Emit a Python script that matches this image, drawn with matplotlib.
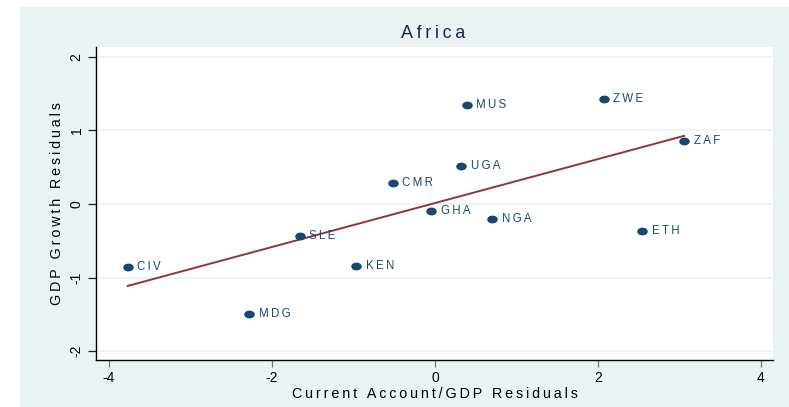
import numpy as np
import matplotlib
matplotlib.use("Agg")
import matplotlib.pyplot as plt
from matplotlib.path import Path
from matplotlib.transforms import Affine2D
from matplotlib.patches import Rectangle

# residuals
countries = ["CIV", "MDG", "SLE", "KEN", "CMR", "GHA", "UGA", "MUS", "NGA", "ZWE", "ETH", "ZAF"]
ca_resid = [-3.77, -2.28, -1.66, -0.97, -0.52, -0.05, 0.32, 0.39, 0.70, 2.07, 2.54, 3.06]
gdp_resid = [-0.86, -1.49, -0.44, -0.85, 0.28, -0.10, 0.51, 1.34, -0.21, 1.42, -0.37, 0.85]

x_ticks = [-4, -2, 0, 2, 4]
y_ticks = [-2, -1, 0, 1, 2]

navy = "#1a476f"
maroon = "#90353b"
bg = "#eaf2f3"

plt.rcParams['font.family'] = ['Liberation Sans', 'DejaVu Sans']

def spaced(s):
    # stata-ish letter spacing
    return "\u2009".join(s)

fig = plt.figure(figsize=(7.89, 4.07), dpi=100, facecolor="white")
fig.patches.append(Rectangle((20 / 789, 0), 1 - 20 / 789, 1 - 7 / 407,
                             transform=fig.transFigure, facecolor=bg,
                             edgecolor="none", zorder=-10))

ax = fig.add_axes([96 / 789, 1 - 360 / 407, (773 - 96) / 789, (360 - 47) / 407])
ax.set_facecolor("white")

x = np.array(ca_resid)
y = np.array(gdp_resid)
slope, icpt = np.polyfit(x, y, 1)
xs = np.array([x.min(), x.max()])
ax.plot(xs, icpt + slope * xs, color=maroon, lw=1.4, zorder=2)

ellipse = Path.unit_circle().transformed(Affine2D().scale(1.35, 1.0))
ax.scatter(x, y, marker=ellipse, s=58, color=navy, zorder=3, linewidths=0)
for c, xi, yi in zip(countries, x, y):
    ax.annotate(spaced(c), (xi, yi), xytext=(7, 0), textcoords="offset points",
                va="center", ha="left", fontsize=8.3, color=navy)

ax.set_xlim(-4.16, 4.15)
ax.set_ylim(-2.12, 2.13)
ax.set_xticks(x_ticks)
ax.set_yticks(y_ticks)
ax.set_xticklabels([str(t) for t in x_ticks], fontsize=10)
ax.set_yticklabels([str(t) for t in y_ticks], fontsize=10, rotation=90, va="center")
ax.grid(axis="y", color=bg, lw=1.2)
ax.set_axisbelow(True)
ax.tick_params(axis="y", direction="out", length=6, width=0.9, color="#222222", pad=3)
ax.tick_params(axis="x", direction="out", length=5, width=0.9, color="#777777", pad=3)
for side in ["top", "right"]:
    ax.spines[side].set_visible(False)
for side in ["left", "bottom"]:
    ax.spines[side].set_linewidth(1.0)

ax.set_xlabel(spaced("Current Account/GDP Residuals"), fontsize=10.3, labelpad=1)
ax.set_ylabel(spaced("GDP Growth Residuals"), fontsize=10.3, labelpad=4)
fig.text(433 / 789, 1 - 33 / 407, spaced("Africa"), ha="center", va="center",
         fontsize=13, color="#1a2a44")

fig.savefig("out.png", dpi=100, facecolor=fig.get_facecolor())
